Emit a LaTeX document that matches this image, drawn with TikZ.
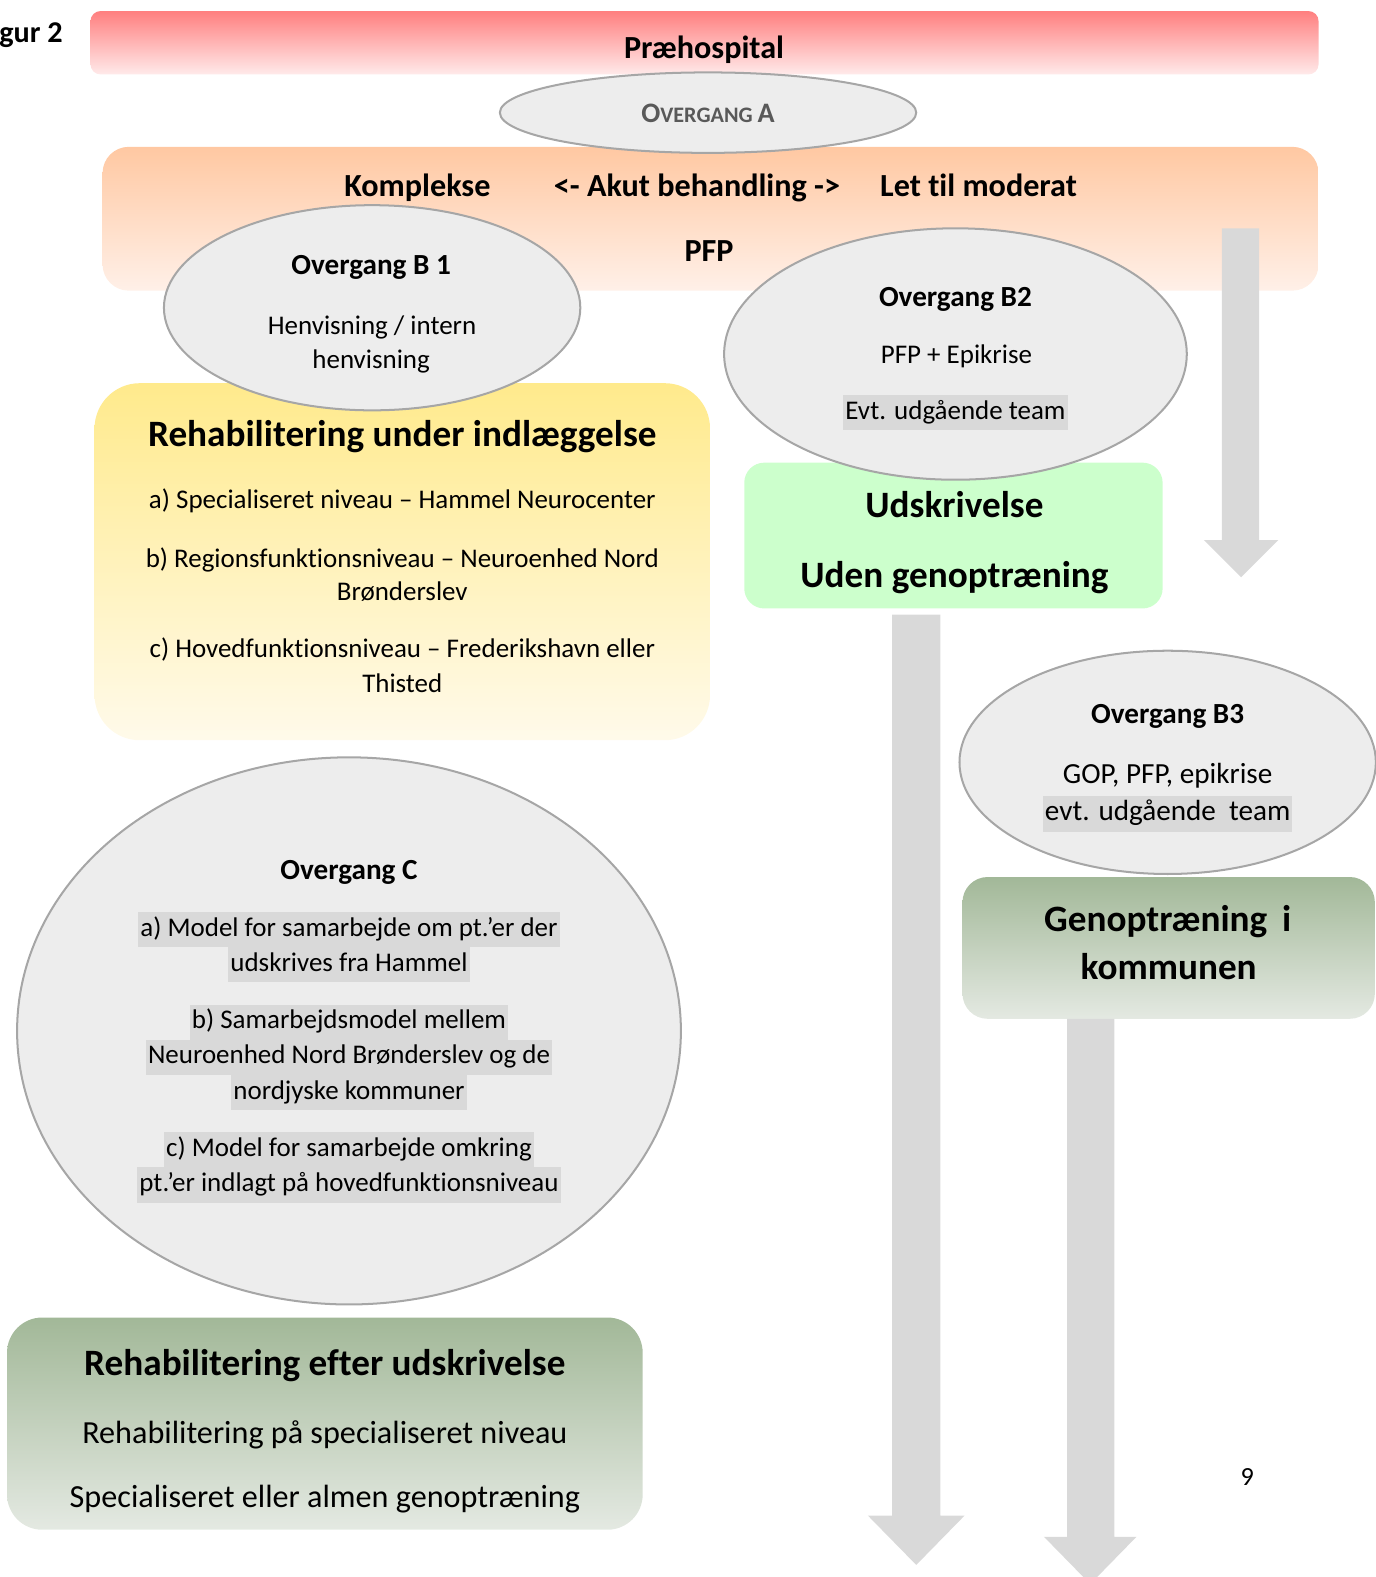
\documentclass[tikz,border=0pt]{standalone}
\usepackage{fontspec}
\setmainfont[Ligatures=NoCommon]{Carlito}
\usetikzlibrary{shapes.geometric}
\definecolor{ellfill}{HTML}{EDEDED}
\definecolor{elldraw}{HTML}{A6A6A6}
\definecolor{arrowgray}{HTML}{D9D9D9}
\definecolor{hlgray}{HTML}{D9D9D9}
\definecolor{redtop}{HTML}{FF7F7F}
\definecolor{redbot}{HTML}{FFEAEA}
\definecolor{orgtop}{HTML}{FFC8A2}
\definecolor{orgbot}{HTML}{FFF0E8}
\definecolor{yeltop}{HTML}{FFEA8C}
\definecolor{yelbot}{HTML}{FFFAEA}
\definecolor{udsgreen}{HTML}{CCFFCC}
\definecolor{sagetop}{HTML}{A2B898}
\definecolor{sagebot}{HTML}{E4E9E2}
\definecolor{graytext}{HTML}{595959}
\begin{document}
\begin{tikzpicture}[x=0.5pt,y=-0.5pt,
  oval/.style={ellipse, draw=elldraw, line width=1pt, fill=ellfill, inner sep=0pt},
  band/.style={rectangle, inner sep=0pt},
  txt/.style={inner sep=0pt, anchor=mid, align=center},
  hdr/.style={txt, font=\fontsize{16}{19}\selectfont\bfseries},
  ovt/.style={txt, font=\fontsize{14.5}{17}\selectfont\bfseries},
  body/.style={txt, font=\fontsize{13.4}{16}\selectfont},
  big/.style={txt, font=\fontsize{18.5}{22}\selectfont\bfseries},
  hl/.style={body, fill=hlgray, text height=12pt, text depth=5.5pt, inner xsep=1pt, inner ysep=0pt}
]
\useasboundingbox (0,0) rectangle (1368,1568);
% bands and boxes
\node[band, top color=redtop, bottom color=redbot, rounded corners=5pt, minimum width=610.5pt, minimum height=31.5pt] (pre) at (700.5,42.5) {};
\node[band, top color=orgtop, bottom color=orgbot, rounded corners=13pt, minimum width=604.5pt, minimum height=71.5pt] (akut) at (706.5,217.5) {};
\fill[arrowgray] (1215,227) -- (1252,227) -- (1252,537) -- (1271,537) -- (1234,574) -- (1197,537) -- (1215,537) -- cycle;
\node[oval, minimum width=207pt, minimum height=40pt] (ovA) at (704,112) {};
\node[band, top color=yeltop, bottom color=yelbot, rounded corners=22.5pt, minimum width=306pt, minimum height=177.5pt] (indl) at (400,558.5) {};
\node[band, fill=udsgreen, rounded corners=10pt, minimum width=208pt, minimum height=72.5pt] (uds) at (948,532.5) {};
\node[oval, minimum width=207pt, minimum height=102pt] (ovB1) at (370,306) {};
\node[oval, minimum width=230pt, minimum height=125pt] (ovB2) at (950,352) {};
\fill[arrowgray] (887,611) -- (935,611) -- (935,1507) -- (959,1507) -- (911,1556) -- (863,1507) -- (887,1507) -- cycle;
\node[oval, minimum width=207pt, minimum height=111pt] (ovB3) at (1161,758) {};
\node[band, top color=sagetop, bottom color=sagebot, rounded corners=12.5pt, minimum width=205pt, minimum height=70.5pt] (kom) at (1162,942.5) {};
\fill[arrowgray] (1061,1013) -- (1108,1013) -- (1108,1528) -- (1130,1528) -- (1084,1575) -- (1038,1528) -- (1061,1528) -- cycle;
\node[oval, minimum width=330pt, minimum height=272pt] (ovC) at (347,1025) {};
\node[band, top color=sagetop, bottom color=sagebot, rounded corners=17.5pt, minimum width=316pt, minimum height=105.5pt] (efter) at (323,1415.5) {};
% texts
\node[hdr, anchor=mid west, font=\fontsize{15}{18}\selectfont\bfseries] (gur) at (-1,37) {gur 2};
\node[hdr] (tpre) at (700,53) {Præhospital};
\node[txt, text=graytext, font=\bfseries] (tA) at (704,117) {\fontsize{14}{17}\selectfont O\fontsize{11}{13}\selectfont VERGANG \fontsize{14}{17}\selectfont A};
\node[hdr] (tkom) at (415,191) {Komplekse};
\node[hdr] (takut) at (693,191) {<- Akut behandling ->};
\node[hdr] (tlet) at (973,191) {Let til moderat};
\node[hdr] (tpfp) at (705,255) {PFP};
% B1
\node[ovt] (tB1) at (369,268) {Overgang B 1};
\node[body] (tB1a) at (370,328) {Henvisning / intern};
\node[body] (tB1b) at (369,362) {henvisning};
% B2
\node[ovt] (tB2) at (950,300) {Overgang B2};
\node[body] (tB2a) at (951,357) {PFP + Epikrise};
\node[hl] (tB2b) at (950,412) {Evt. udgående team};
% yellow
\node[big] (tindl) at (400,439) {Rehabilitering under indlæggelse};
\node[body] (ti1) at (400,501) {a) Specialiseret niveau – Hammel Neurocenter};
\node[body] (ti2) at (400,559) {b) Regionsfunktionsniveau – Neuroenhed Nord};
\node[body] (ti3) at (400,592) {Brønderslev};
\node[body] (ti4) at (400,649) {c) Hovedfunktionsniveau – Frederikshavn eller};
\node[body] (ti5) at (400,684) {Thisted};
% green
\node[big] (tuds1) at (949,510) {Udskrivelse};
\node[big] (tuds2) at (949,579) {Uden genoptræning};
% B3
\node[ovt] (tB3) at (1161,715) {Overgang B3};
\node[body, font=\fontsize{14.5}{17}\selectfont] (tB3a) at (1161,774) {GOP, PFP, epikrise};
\node[hl, font=\fontsize{14.5}{17}\selectfont] (tB3b) at (1161,811) {evt. udgående\ \ team};
\node[big] (tkom1) at (1161,921) {Genoptræning\hspace{0.4em}i};
\node[big] (tkom2) at (1162,969) {kommunen};
% C
\node[ovt] (tC) at (347,870) {Overgang C};
\node[hl] (tC1) at (347,926) {a) Model for samarbejde om pt.’er der};
\node[hl] (tC2) at (347,961) {udskrives fra Hammel};
\node[hl] (tC3) at (347,1018) {b) Samarbejdsmodel mellem};
\node[hl] (tC4) at (347,1053) {Neuroenhed Nord Brønderslev og de};
\node[hl] (tC5) at (347,1088) {nordjyske kommuner};
\node[hl] (tC6) at (347,1145) {c) Model for samarbejde omkring};
\node[hl] (tC7) at (347,1180) {pt.’er indlagt på hovedfunktionsniveau};
% bottom
\node[big, font=\fontsize{18.5}{22}\selectfont\bfseries] (tef) at (323,1363) {Rehabilitering efter udskrivelse};
\node[body, font=\fontsize{16}{19}\selectfont] (tef1) at (323,1430) {Rehabilitering på specialiseret niveau};
\node[body, font=\fontsize{16}{19}\selectfont] (tef2) at (323,1494) {Specialiseret eller almen genoptræning};
\node[body, font=\fontsize{13}{16}\selectfont] (page) at (1240,1472) {9};
\end{tikzpicture}
\end{document}
